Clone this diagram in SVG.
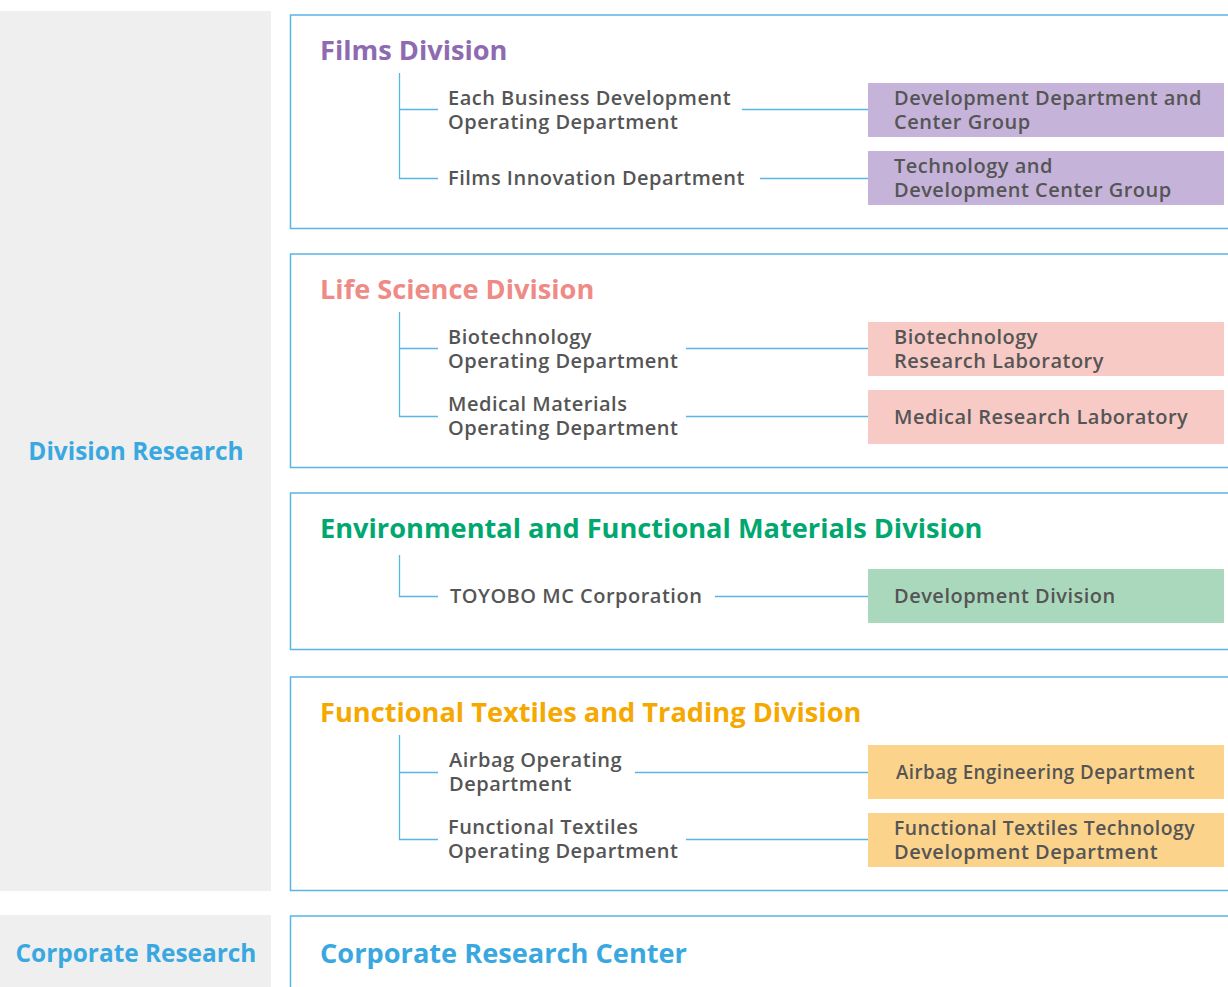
<svg xmlns="http://www.w3.org/2000/svg" width="1228" height="987" viewBox="0 0 1228 987">
<style>
.side{fill:#efefef}
.frame{fill:#fff;stroke:#5ab4e5;stroke-width:1.5}
.ln{stroke:#5ab4e5;stroke-width:1.3;fill:none}
.t{font-family:"Open Sans","Noto Sans",sans-serif;font-size:20px;letter-spacing:0.5px;fill:#555;font-weight:600}
.h{font-family:"Open Sans","Noto Sans",sans-serif;font-size:27.2px;font-weight:700}
.s{font-family:"Open Sans","Noto Sans",sans-serif;font-size:24.4px;font-weight:700;fill:#3aa8e0}
.pu{fill:#c5b3d9}.pk{fill:#f8cac5}.gr{fill:#aad8bd}.or{fill:#fbd38b}
</style>
<rect class="side" x="0" y="11" width="271" height="880"/>
<rect class="side" x="0" y="915" width="271" height="72"/>
<text class="s" x="136" y="460" text-anchor="middle">Division Research</text>
<text class="s" x="136" y="962" text-anchor="middle">Corporate Research</text>

<g id="films">
<path class="frame" d="M1230 15H290.5V228.5H1230"/>
<text class="h" x="320" y="60" fill="#8e6bb0">Films Division</text>
<text class="t" x="448" y="105">Each Business Development</text>
<text class="t" x="448" y="129">Operating Department</text>
<text class="t" x="448" y="185">Films Innovation Department</text>
<rect class="pu" x="868" y="83" width="356" height="54"/>
<text class="t" x="894" y="105">Development Department and</text>
<text class="t" x="894" y="129">Center Group</text>
<rect class="pu" x="868" y="151" width="356" height="54"/>
<text class="t" x="894" y="173">Technology and</text>
<text class="t" x="894" y="197">Development Center Group</text>
</g>

<g id="life">
<path class="frame" d="M1230 254H290.5V467.5H1230"/>
<text class="h" x="320" y="299" fill="#ef8a86">Life Science Division</text>
<text class="t" x="448" y="344">Biotechnology</text>
<text class="t" x="448" y="368">Operating Department</text>
<text class="t" x="448" y="411">Medical Materials</text>
<text class="t" x="448" y="435">Operating Department</text>
<rect class="pk" x="868" y="322" width="356" height="54"/>
<text class="t" x="894" y="344">Biotechnology</text>
<text class="t" x="894" y="368">Research Laboratory</text>
<rect class="pk" x="868" y="390" width="356" height="54"/>
<text class="t" x="894" y="424">Medical Research Laboratory</text>
</g>

<g id="env">
<path class="frame" d="M1230 493H290.5V649.5H1230"/>
<text class="h" x="320" y="538" fill="#00a870">Environmental and Functional Materials Division</text>
<text class="t" x="450" y="603">TOYOBO MC Corporation</text>
<rect class="gr" x="868" y="569" width="356" height="54"/>
<text class="t" x="894" y="603">Development Division</text>
</g>

<g id="func">
<path class="frame" d="M1230 677H290.5V890.5H1230"/>
<text class="h" x="320" y="722" fill="#f5a800">Functional Textiles and Trading Division</text>
<text class="t" x="449" y="767">Airbag Operating</text>
<text class="t" x="449" y="791">Department</text>
<text class="t" x="448" y="834">Functional Textiles</text>
<text class="t" x="448" y="858">Operating Department</text>
<rect class="or" x="868" y="745" width="356" height="54"/>
<text class="t" x="896" y="779" textLength="299" lengthAdjust="spacingAndGlyphs">Airbag Engineering Department</text>
<rect class="or" x="868" y="813" width="356" height="54"/>
<text class="t" x="894" y="835" textLength="301" lengthAdjust="spacingAndGlyphs">Functional Textiles Technology</text>
<text class="t" x="894" y="859">Development Department</text>
</g>

<g id="corp">
<path class="frame" d="M1230 916H290.5V990"/>
<text class="h" x="320" y="963" fill="#3aa8e0">Corporate Research Center</text>
</g>

<g id="connectors">
<path class="ln" d="M399.5 73V178.5H438M399.5 109.5H438M742 109.5H868M760 178.5H868"/>
<path class="ln" d="M399.5 312V416.5H438M399.5 348.5H438M686 348.5H868M686 416.5H868"/>
<path class="ln" d="M399.5 555V596.5H438M715 596.5H868"/>
<path class="ln" d="M399.5 735V839.5H438M399.5 772.5H438M635 772.5H868M686 839.5H868"/>
</g>
</svg>
